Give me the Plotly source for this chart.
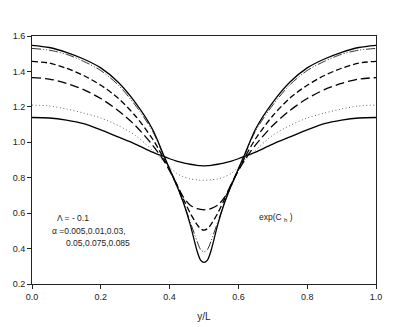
import plotly.graph_objects as go

# y/L positions (common to all curves)
y_over_L = [0.0, 0.05, 0.10, 0.15, 0.20, 0.25, 0.30, 0.35, 0.38, 0.40, 0.42, 0.44, 0.46, 0.48, 0.49, 0.50,
            0.51, 0.52, 0.54, 0.56, 0.58, 0.60, 0.62, 0.65, 0.70, 0.75, 0.80, 0.85, 0.90, 0.95, 1.0]

alpha_labels = ["0.005", "0.01", "0.03", "0.05", "0.075", "0.085"]

exp_ch_a0005 = [1.14, 1.137, 1.125, 1.105, 1.07, 1.03, 0.99, 0.945, 0.922, 0.907, 0.894, 0.884, 0.876, 0.87, 0.868, 0.867,
                0.868, 0.87, 0.876, 0.884, 0.894, 0.907, 0.922, 0.945, 0.99, 1.03, 1.07, 1.105, 1.125, 1.137, 1.14]
exp_ch_a001 = [1.21, 1.205, 1.188, 1.165, 1.137, 1.095, 1.04, 0.955, 0.90, 0.86, 0.825, 0.805, 0.793, 0.788, 0.786, 0.786,
               0.786, 0.788, 0.793, 0.805, 0.825, 0.86, 0.90, 0.955, 1.04, 1.095, 1.137, 1.165, 1.188, 1.205, 1.21]
exp_ch_a003 = [1.365, 1.357, 1.333, 1.297, 1.247, 1.18, 1.095, 0.985, 0.905, 0.84, 0.765, 0.69, 0.645, 0.625, 0.621, 0.619,
               0.621, 0.625, 0.645, 0.69, 0.765, 0.84, 0.905, 0.985, 1.095, 1.18, 1.247, 1.297, 1.333, 1.357, 1.365]
exp_ch_a005 = [1.457, 1.447, 1.418, 1.377, 1.322, 1.25, 1.15, 1.02, 0.92, 0.845, 0.765, 0.68, 0.60, 0.535, 0.512, 0.504,
               0.512, 0.535, 0.60, 0.68, 0.765, 0.845, 0.92, 1.02, 1.15, 1.25, 1.322, 1.377, 1.418, 1.447, 1.457]
exp_ch_a0075 = [1.53, 1.52, 1.497, 1.457, 1.405, 1.325, 1.21, 1.065, 0.935, 0.845, 0.755, 0.66, 0.55, 0.44, 0.395, 0.382,
                0.395, 0.44, 0.55, 0.66, 0.755, 0.845, 0.935, 1.065, 1.21, 1.325, 1.405, 1.457, 1.497, 1.52, 1.53]
exp_ch_a0085 = [1.547, 1.535, 1.508, 1.47, 1.42, 1.34, 1.225, 1.075, 0.94, 0.85, 0.76, 0.66, 0.535, 0.385, 0.335, 0.322,
                0.335, 0.385, 0.535, 0.66, 0.76, 0.85, 0.94, 1.075, 1.225, 1.34, 1.42, 1.47, 1.508, 1.535, 1.547]

series = [exp_ch_a0005, exp_ch_a001, exp_ch_a003, exp_ch_a005, exp_ch_a0075, exp_ch_a0085]
dashes = ["solid", "1px,2.5px", "9px,4px", "6px,3px", "9px,2px,1px,2px,1px,2px", "solid"]
widths = [1.3, 0.9, 1.3, 1.3, 1.0, 1.3]
colors = ["black", "#555", "black", "black", "#333", "black"]

fig = go.Figure()
for lab, vals, d, w, c in zip(alpha_labels, series, dashes, widths, colors):
    fig.add_trace(go.Scatter(x=y_over_L, y=vals, mode="lines", name=lab,
                             line=dict(color=c, width=w, dash=d, shape="spline", smoothing=0.8)))

font = dict(family="Liberation Sans, Arial, sans-serif", size=9, color="#222")

fig.update_layout(
    width=387, height=319,
    margin=dict(l=24, r=19, t=28, b=43),
    paper_bgcolor="white", plot_bgcolor="white",
    showlegend=False,
    font=font,
    xaxis=dict(range=[0, 1], tickvals=[0, 0.2, 0.4, 0.6, 0.8, 1.0], ticktext=["0.0", "0.2", "0.4", "0.6", "0.8", "1.0"],
               ticks="outside", ticklen=4, tickwidth=1, tickcolor="#222", automargin=False,
               showline=True, linecolor="#222", linewidth=1, mirror=True, showgrid=False, zeroline=False,
               title=dict(text="y/L", font=dict(size=10, color="#222"), standoff=12)),
    yaxis=dict(range=[0.2, 1.6], tickvals=[0.2, 0.4, 0.6, 0.8, 1.0, 1.2, 1.4, 1.6],
               ticktext=["0.2", "0.4", "0.6", "0.8", "1.0", "1.2", "1.4", "1.6"],
               ticks="outside", ticklen=4, tickwidth=1, tickcolor="#222", automargin=False,
               showline=True, linecolor="#222", linewidth=1, mirror=True, showgrid=False, zeroline=False),
)

fig.add_annotation(x=0.068, y=0.572, xref="x", yref="y", text="Λ = - 0.1", showarrow=False,
                   xanchor="left", font=dict(size=8.5, color="#222"))
fig.add_annotation(x=0.052, y=0.500, xref="x", yref="y", text="α =0.005,0.01,0.03,", showarrow=False,
                   xanchor="left", font=dict(size=8.5, color="#222"))
fig.add_annotation(x=0.093, y=0.432, xref="x", yref="y", text="0.05,0.075,0.085", showarrow=False,
                   xanchor="left", font=dict(size=8.5, color="#222"))
fig.add_annotation(x=0.655, y=0.577, xref="x", yref="y", text="exp(C <sub>h</sub> )", showarrow=False,
                   xanchor="left", font=dict(size=8.5, color="#222"))

fig.write_html("out.html")
